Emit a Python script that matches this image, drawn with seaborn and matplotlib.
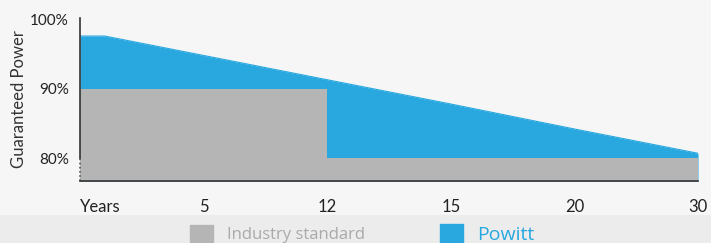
import numpy as np
import matplotlib.pyplot as plt
import matplotlib.patches as mpatches
import seaborn as sns
import pandas as pd

# x axis is categorical: evenly spaced ticks
tick_labels = ['Years', '5', '12', '15', '20', '30']
y_ticks = [80, 90, 100]

# Powitt guarantee (position on the category axis, % power)
powitt_pos = [0, 0.2, 1, 2, 3, 4, 5]
powitt_val = [97.6, 97.6, 94.8, 91.3, 87.8, 84.2, 80.7]

# industry standard step: 90% until year 12, then 80%
industry_pos = [0, 2, 2, 5]
industry_val = [90, 90, 80, 80]

blue = '#29a8e0'
grey = '#b5b5b5'

sns.set_theme(style='white')
plt.rcParams['font.family'] = ['Lato', 'DejaVu Sans']

fig = plt.figure(figsize=(7.11, 2.43), dpi=100, facecolor='#f6f6f6')
# slightly darker band behind the legend
fig.patches.append(mpatches.Rectangle((0, 0), 1, 28 / 243, transform=fig.transFigure,
                                      facecolor='#ececec', edgecolor='none', zorder=0))
ax = fig.add_axes([80 / 711, 62 / 243, 618 / 711, 163 / 243])
ax.set_facecolor('none')

ymin = 76.7
df_p = pd.DataFrame({'pos': powitt_pos, 'val': powitt_val})
df_i = pd.DataFrame({'pos': industry_pos, 'val': industry_val})

ax.fill_between(df_p['pos'], ymin, df_p['val'], color=blue, linewidth=0, label='Powitt')
ax.fill_between(df_i['pos'], ymin, df_i['val'], color=grey, linewidth=0, label='Industry standard')
sns.lineplot(data=df_p, x='pos', y='val', ax=ax, color=blue, linewidth=0.8, legend=False)

ax.set_xlim(0, 5)
ax.set_ylim(ymin, 100.2)
ax.set_xticks(range(len(tick_labels)))
ax.set_xticklabels(tick_labels)
ax.get_xticklabels()[0].set_horizontalalignment('left')
ax.set_yticks(y_ticks)
ax.set_yticklabels([f'{v}%' for v in y_ticks])
ax.set_xlabel('')
ax.set_ylabel('Guaranteed Power', fontsize=12, color='#333333', labelpad=2)

for s in ['top', 'right']:
    ax.spines[s].set_visible(False)
ax.spines['left'].set_bounds(80, 100.2)
for s in ['left', 'bottom']:
    ax.spines[s].set_color('#333333')
    ax.spines[s].set_linewidth(1.2)
# dotted break on the y axis below 80%
ax.plot([0, 0], [ymin, 80], color='#555555', linestyle=(0, (1, 1.5)), linewidth=1.2,
        clip_on=False)

ax.tick_params(axis='both', which='both', direction='out', length=5, width=1,
               color='#333333', labelcolor='#222222', labelsize=11)
ax.tick_params(axis='x', pad=8, labelsize=12)
ax.tick_params(axis='y', pad=3)

# two single-entry legends so each can sit where the reference has it
legend_items = [('Industry standard', grey, '#aaaaaa', 12, 190),
                ('Powitt', blue, blue, 14, 440)]
for label, fc, tc, fs, x0 in legend_items:
    size_px = fs * 100 / 72
    leg = fig.legend([mpatches.Patch(color=fc)], [label], loc='center left',
                     bbox_to_anchor=(x0 / 711, 9 / 243), frameon=False, fontsize=fs,
                     borderpad=0, borderaxespad=0,
                     handlelength=23 / size_px, handleheight=20 / size_px,
                     handletextpad=14 / size_px)
    leg.get_texts()[0].set_color(tc)
    leg.get_texts()[0].set_fontfamily(['Open Sans', 'DejaVu Sans'])

fig.savefig('out.png', dpi=100, facecolor=fig.get_facecolor())
